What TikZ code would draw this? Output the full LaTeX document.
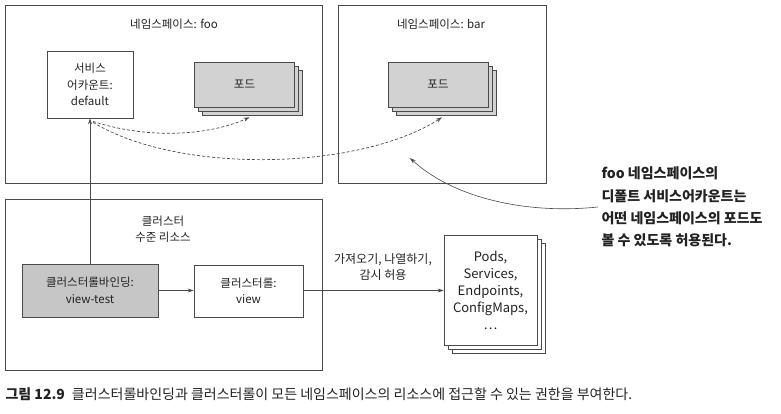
\documentclass[tikz,border=0pt]{standalone}
\usepackage{fontspec}
\setmainfont{Noto Sans CJK KR}
\usetikzlibrary{arrows.meta,shadows}
\definecolor{linegray}{HTML}{4A4A4A}
\definecolor{podgray}{HTML}{D2D2D2}
\definecolor{bindgray}{HTML}{C6C6C6}
\definecolor{txt}{HTML}{222222}
\begin{document}
\begin{tikzpicture}[x=1pt,y=-1pt,
    every node/.style={text=txt, font=\fontsize{11.5}{16.5}\selectfont},
    nsbox/.style={draw=linegray, line width=0.8pt, minimum width=#1, inner sep=0pt},
    plainbox/.style={draw=linegray, line width=0.8pt, fill=white, align=center, inner sep=0pt},
    podstack/.style={draw=linegray, line width=0.7pt, fill=podgray, inner sep=0pt,
      minimum width=100pt, minimum height=45pt,
      double copy shadow={shadow xshift=4pt, shadow yshift=-4pt}},
    arr/.style={-{Stealth[length=6pt,width=4pt]}, draw=linegray, line width=0.7pt},
    darr/.style={arr, dashed, dash pattern=on 3pt off 2pt}]
  \useasboundingbox (0,0) rectangle (781,414);

  % 네임스페이스 상자
  \node[nsbox=317pt, minimum height=178pt] (foo) at (163.5,94) {};
  \node[nsbox=208pt, minimum height=178pt] (bar) at (442,94) {};
  \node (footitle) at (174,24) {네임스페이스: foo};
  \node (bartitle) at (441,24) {네임스페이스: bar};

  % 서비스어카운트와 포드
  \node[plainbox, minimum width=86pt, minimum height=67pt] (sa) at (90,84.5) {서비스\\어카운트:\\default};
  \node[podstack] (fpod) at (244.5,84.5) {포드};
  \node[podstack] (bpod) at (438,84.5) {포드};

  % 클러스터 수준 리소스
  \node[nsbox=317pt, minimum height=171pt] (cluster) at (163.5,284.5) {};
  \node[align=center] (ctitle) at (163,229) {클러스터\\수준 리소스};
  \node[plainbox, fill=bindgray, minimum width=136pt, minimum height=53pt] (bind) at (90,290.5) {클러스터롤바인딩:\\view-test};
  \node[plainbox, minimum width=109pt, minimum height=52pt] (role) at (248.5,291) {클러스터롤:\\view};
  \node[plainbox, minimum width=93pt, minimum height=110pt,
    double copy shadow={shadow xshift=4pt, shadow yshift=-4pt}, font=\fontsize{13}{17}\selectfont]
    (res) at (490.5,290) {Pods,\\Services,\\Endpoints,\\ConfigMaps,\\\dots};
  \node[align=center, font=\fontsize{12}{16.5}\selectfont] (verbs) at (383,267) {가져오기, 나열하기,\\감시 허용};

  % 화살표
  \draw[arr] (bind) -- (sa);
  \draw[arr] (bind.east) -- (role.west |- bind.east);
  \draw[arr] (role.east |- bind.east) -- (res.west |- bind.east);
  \draw[darr] ([shift={(3,3)}]sa.south) .. controls (150,140) and (210,135) .. ([shift={(5,10)}]fpod.south);
  \draw[darr] ([shift={(3,4)}]sa.south) .. controls (180,175) and (360,170) .. ([shift={(4,10)}]bpod.south);

  % 설명
  \node[anchor=west, align=left, font=\bfseries\fontsize{14}{22.3}\selectfont] (note) at (598,207)
    {foo 네임스페이스의\\디폴트 서비스어카운트는\\어떤 네임스페이스의 포드도\\볼 수 있도록 허용된다.};
  \draw[arr, line width=0.6pt] (note.west) .. controls (520,215) and (450,195) .. (410,158);

  % 그림 설명
  \node[anchor=west, font=\fontsize{14}{16}\selectfont] (caption) at (2,394)
    {\textbf{그림 12.9}\hspace{0.5em}클러스터롤바인딩과 클러스터롤이 모든 네임스페이스의 리소스에 접근할 수 있는 권한을 부여한다.};
\end{tikzpicture}
\end{document}
